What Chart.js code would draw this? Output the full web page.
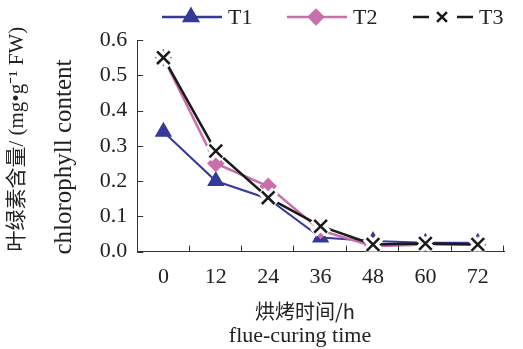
<!DOCTYPE html>
<html>
<head>
<meta charset="utf-8">
<script src="https://cdn.jsdelivr.net/npm/chart.js@4"></script>
<style>
  html, body { margin: 0; padding: 0; background: #fff; }
  #wrap { width: 523px; height: 349px; }
</style>
</head>
<body>
<div id="wrap"><canvas id="c" width="523" height="349"></canvas></div>
<script>
const hours = ['0', '12', '24', '36', '48', '60', '72'];
const t1 = [0.34, 0.20, 0.15, 0.04, 0.03, 0.025, 0.025];
const t2 = [0.55, 0.25, 0.185, 0.06, 0.015, 0.02, 0.02];
const t3 = [0.55, 0.285, 0.153, 0.072, 0.02, 0.023, 0.02];
const yTicks = [0, 0.1, 0.2, 0.3, 0.4, 0.5, 0.6];

const BLUE = '#353a9a';
const PINK = '#c970ac';
const BLACK = '#1a1a1a';
const FONT = "'Liberation Serif', 'Times New Roman', serif";

// inward tick marks, custom legend, second y title line and x title
const decor = {
  id: 'decor',
  afterDraw(chart) {
    const ctx = chart.ctx;
    const x = chart.scales.x, y = chart.scales.y;
    const area = chart.chartArea;
    ctx.save();
    ctx.strokeStyle = '#333';
    ctx.lineWidth = 1;
    ctx.beginPath();
    yTicks.forEach(v => {
      const py = Math.round(y.getPixelForValue(v)) + 0.5;
      ctx.moveTo(area.left, py);
      ctx.lineTo(area.left + 6, py);
    });
    for (let i = 1; i <= hours.length; i++) {
      const px = Math.round(i < hours.length
        ? (x.getPixelForValue(i - 1) + x.getPixelForValue(i)) / 2
        : area.right) - 0.5;
      ctx.moveTo(px, area.bottom);
      ctx.lineTo(px, area.bottom - 6);
    }
    ctx.stroke();

    // legend
    const ly = 17;
    const items = [
      { label: 'T1', color: BLUE, style: 'triangle', r: 8, x0: 162, gap: false },
      { label: 'T2', color: PINK, style: 'rectRot', r: 7, x0: 287, gap: false },
      { label: 'T3', color: BLACK, style: 'crossRot', r: 7, x0: 413, gap: true }
    ];
    ctx.font = '22px ' + FONT;
    ctx.textBaseline = 'middle';
    items.forEach(it => {
      ctx.strokeStyle = it.color;
      ctx.fillStyle = it.color;
      ctx.lineWidth = 2.5;
      ctx.beginPath();
      if (it.gap) {
        ctx.moveTo(it.x0, ly); ctx.lineTo(it.x0 + 16, ly);
        ctx.moveTo(it.x0 + 44, ly); ctx.lineTo(it.x0 + 60, ly);
      } else {
        ctx.moveTo(it.x0, ly); ctx.lineTo(it.x0 + 60, ly);
      }
      ctx.stroke();
      Chart.helpers.drawPoint(ctx, { pointStyle: it.style, radius: it.r, rotation: 0, borderWidth: 2.5 }, it.x0 + 29, ly);
      ctx.fillStyle = '#222';
      ctx.fillText(it.label, it.x0 + 66, ly + 1);
    });

    // second line of the y title
    ctx.save();
    ctx.translate(64, area.bottom + 3);
    ctx.rotate(-Math.PI / 2);
    ctx.textAlign = 'left';
    ctx.font = '25px ' + FONT;
    ctx.fillText('chlorophyll content', 0, 0);
    ctx.restore();

    // x title
    ctx.fillStyle = '#222';
    ctx.textAlign = 'center';
    ctx.font = "20px 'Noto Sans CJK SC', sans-serif";
    ctx.fillText('烘烤时间/h', 305, 311);
    ctx.font = '22px ' + FONT;
    ctx.fillText('flue-curing time', 300, 336);
    ctx.restore();
  }
};

const pointDefaults = { showLine: true, fill: false, tension: 0 };

new Chart(document.getElementById('c'), {
  type: 'line',
  data: {
    labels: hours,
    datasets: [
      { ...pointDefaults, label: 'T1', data: t1, borderColor: BLUE, backgroundColor: BLUE,
        borderWidth: 2, pointStyle: 'triangle', pointRadius: 8, order: 5 },
      { ...pointDefaults, label: 'T2', data: t2, borderColor: PINK, backgroundColor: PINK,
        borderWidth: 2.5, pointStyle: 'rectRot', pointRadius: 7, order: 4 },
      { ...pointDefaults, label: 'T3 line', data: t3, borderColor: BLACK, backgroundColor: BLACK,
        borderWidth: 2.5, pointRadius: 0, order: 3 },
      { label: 'halo', data: t3, showLine: false, borderColor: '#fff', backgroundColor: '#fff',
        pointStyle: 'crossRot', pointRadius: 10, pointBorderWidth: 9, order: 2 },
      { label: 'T3', data: t3, showLine: false, borderColor: BLACK, backgroundColor: BLACK,
        pointStyle: 'crossRot', pointRadius: 9, pointBorderWidth: 2.5, order: 1 }
    ]
  },
  options: {
    responsive: false,
    animation: false,
    layout: { padding: { top: 40, right: 1, bottom: 47, left: 0 } },
    plugins: {
      legend: { display: false },
      tooltip: { enabled: false }
    },
    scales: {
      x: {
        type: 'category',
        offset: true,
        grid: { display: false, drawTicks: false },
        border: { display: true, color: '#333', width: 1 },
        ticks: { color: '#222', font: { family: FONT, size: 22 }, padding: 12, maxRotation: 0 }
      },
      y: {
        min: 0,
        max: 0.6,
        grid: { display: false, drawTicks: false },
        border: { display: true, color: '#333', width: 1 },
        afterBuildTicks: s => { s.ticks = yTicks.map(v => ({ value: v })); },
        ticks: {
          color: '#222',
          font: { family: FONT, size: 22 },
          padding: 10,
          callback: v => v.toFixed(1)
        },
        title: {
          display: true,
          align: 'start',
          text: '叶绿素含量/ (mg•g⁻¹ FW)',
          color: '#222',
          font: { family: "'Liberation Serif', 'Noto Sans CJK SC', serif", size: 21, lineHeight: 1.7 },
          padding: { top: 0, bottom: 54 }
        }
      }
    }
  },
  plugins: [decor]
});
</script>
</body>
</html>
